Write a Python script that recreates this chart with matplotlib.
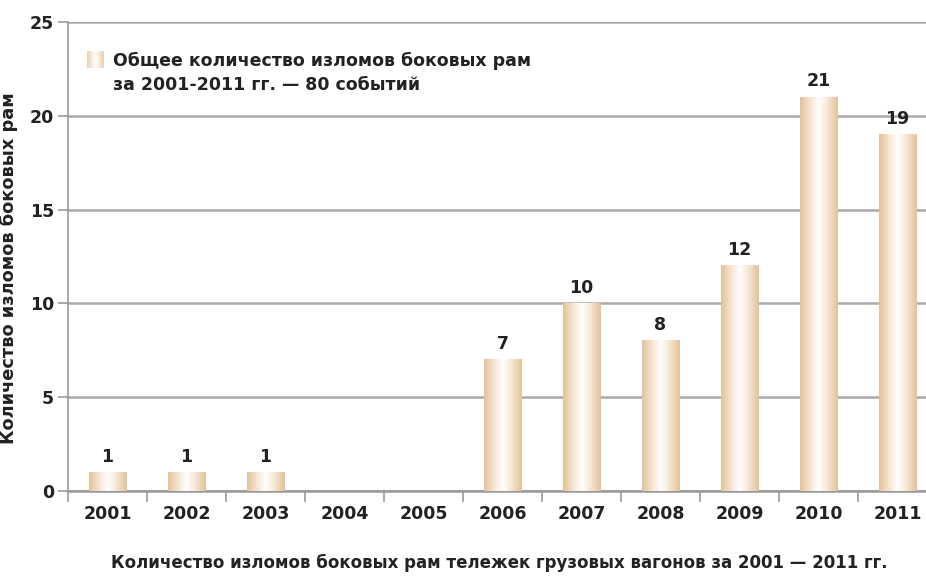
import matplotlib.pyplot as plt
import numpy as np
from matplotlib.colors import LinearSegmentedColormap

plt.rcParams['font.family'] = ['DejaVu Sans']

years = ['2001', '2002', '2003', '2004', '2005', '2006', '2007', '2008', '2009', '2010', '2011']
counts = [1, 1, 1, 0, 0, 7, 10, 8, 12, 21, 19]
yticks = [0, 5, 10, 15, 20, 25]
legend_text = 'Общее количество изломов боковых рам\nза 2001-2011 гг. — 80 событий'

fig = plt.figure(figsize=(9.26, 5.76), dpi=100)
ax = fig.add_axes([0.0734, 0.1476, 0.9266, 0.8142])

# tan edges -> white centre gradient for bars
cmap = LinearSegmentedColormap.from_list('bar', ['#e3c29b', '#f5e4cf', '#ffffff', '#f5e4cf', '#e3c29b'])
grad = np.linspace(0, 1, 64).reshape(1, -1)

x = np.arange(len(years))
w = 0.48
bars = ax.bar(x, counts, width=w, color='none', edgecolor='none', zorder=3)
for b, v in zip(bars, counts):
    if v <= 0:
        continue
    x0 = b.get_x()
    ax.imshow(grad, cmap=cmap, aspect='auto', extent=(x0, x0 + w, 0, v),
              zorder=3, interpolation='bicubic')
    ax.text(b.get_x() + w / 2, v + 0.35, str(v), ha='center', va='bottom',
            fontsize=12.5, fontweight='bold', color='#222222')

# legend: small gradient swatch + two-line text
ax.imshow(grad, cmap=cmap, aspect='auto', extent=(0.022, 0.041, 0.902, 0.938),
          transform=ax.transAxes, zorder=3, interpolation='bicubic', alpha=0.8)
ax.text(0.0524, 0.936, legend_text, transform=ax.transAxes, ha='left', va='top',
        fontsize=12.5, fontweight='bold', color='#222222', linespacing=1.45)

ax.set_yticks(yticks)
ax.set_yticklabels([str(t) for t in yticks], fontsize=12.5, fontweight='bold', color='#222222')
ax.yaxis.grid(True, color='#aaaaaa', linewidth=1.8, zorder=1)
ax.set_axisbelow(True)

# category labels centred, ticks at boundaries
ax.set_xticks(x)
ax.set_xticklabels(years, fontsize=12.5, fontweight='bold', color='#222222')
ax.tick_params(axis='x', length=0, pad=10)
ax.set_xticks(np.arange(-0.5, 10.4, 1), minor=True)
ax.tick_params(axis='x', which='minor', length=8, color='#999999', width=1.2)
ax.tick_params(axis='y', length=7, color='#999999', width=1.2, pad=3)

ax.set_xlim(-0.5, 10.36)
ax.set_ylim(0, 25)

for s in ['top', 'right']:
    ax.spines[s].set_visible(False)
ax.spines['left'].set_color('#999999')
ax.spines['left'].set_linewidth(1.2)
ax.spines['bottom'].set_color('#999999')
ax.spines['bottom'].set_linewidth(1.8)

ax.set_ylabel('Количество изломов боковых рам', fontsize=12.8, fontweight='bold',
              color='#222222')
ax.yaxis.set_label_coords(-0.058, 0.475)

fig.text(0.539, 0.022, 'Количество изломов боковых рам тележек грузовых вагонов за 2001 — 2011 гг.',
         ha='center', va='center', fontsize=12, fontweight='bold', color='#222222')

fig.savefig('out.png', dpi=100)
